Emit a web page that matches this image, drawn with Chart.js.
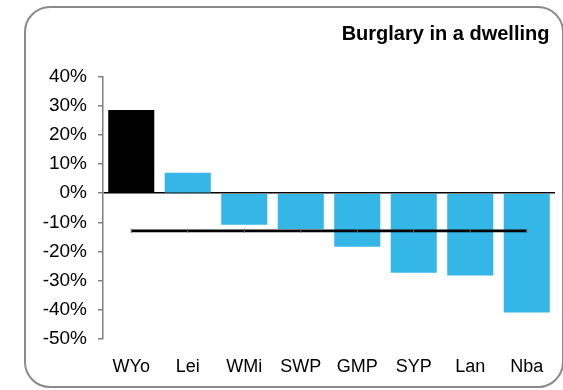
<!DOCTYPE html>
<html>
<head>
<meta charset="utf-8">
<script src="https://cdn.jsdelivr.net/npm/chart.js@4"></script>
<style>
    html, body { margin: 0; padding: 0; background: #fff; }
    #wrap { position: relative; width: 563px; height: 390px; overflow: hidden; }
    #frame {
        position: absolute; left: 24px; top: 6px; width: 536px; height: 378px;
        border: 2px solid #8a8a8a; border-radius: 26px;
    }
    canvas { position: absolute; left: 0; top: 0; }
</style>
</head>
<body>
<div id="wrap">
    <div id="frame"></div>
    <canvas id="chart" width="563" height="390"></canvas>
</div>
<script>
// Data
const forces = ['WYo', 'Lei', 'WMi', 'SWP', 'GMP', 'SYP', 'Lan', 'Nba'];
const changePct = [28.5, 7.0, -10.8, -12.3, -18.4, -27.3, -28.2, -40.9];
const averagePct = [-12.9, -12.9, -12.9, -12.9, -12.9, -12.9, -12.9, -12.9];
const yTicksMin = -50;
const yTicksMax = 40;

const BLUE = '#34b6e7';
const barColors = forces.map((f, i) => i === 0 ? '#000000' : BLUE);

const ctx = document.getElementById('chart');

new Chart(ctx, {
    type: 'bar',
    data: {
        labels: forces,
        datasets: [
            {
                type: 'line',
                label: 'Average',
                data: averagePct,
                borderColor: '#000',
                borderWidth: 2.8,
                pointStyle: 'line',
                rotation: 90,
                pointRadius: 2,
                pointBorderWidth: 1,
                pointBorderColor: '#666',
                fill: false,
                order: 0
            },
            {
                label: 'Burglary in a dwelling',
                data: changePct,
                backgroundColor: barColors,
                categoryPercentage: 1,
                barPercentage: 0.815,
                order: 1
            }
        ]
    },
    options: {
        responsive: false,
        animation: false,
        layout: {
            padding: { left: 0, right: 8, top: 0, bottom: 0 }
        },
        plugins: {
            legend: { display: false },
            tooltip: { enabled: false },
            title: {
                display: true,
                // trailing space nudges the right-aligned title in a little
                text: 'Burglary in a dwelling ',
                align: 'end',
                color: '#000',
                font: { family: 'Liberation Sans', size: 20, weight: 'bold' },
                padding: { top: 22, bottom: 30.5 }
            }
        },
        scales: {
            x: {
                grid: { display: false, drawTicks: false },
                border: { display: false },
                ticks: {
                    color: '#000',
                    padding: 17,
                    font: { family: 'Liberation Sans', size: 18 }
                },
                afterFit: (scale) => { scale.height = 51; }
            },
            y: {
                min: yTicksMin,
                max: yTicksMax,
                border: { color: '#808080', width: 1.5 },
                grid: {
                    drawOnChartArea: true,
                    color: (c) => (c.tick && c.tick.value === 0) ? '#000' : 'rgba(0,0,0,0)',
                    lineWidth: 1.5,
                    tickColor: '#808080',
                    tickLength: 5
                },
                ticks: {
                    stepSize: 10,
                    color: '#000',
                    padding: 11,
                    font: { family: 'Liberation Sans', size: 19 },
                    callback: (v) => v + '%'
                },
                afterFit: (scale) => { scale.width = 103; }
            }
        }
    }
});
</script>
</body>
</html>
